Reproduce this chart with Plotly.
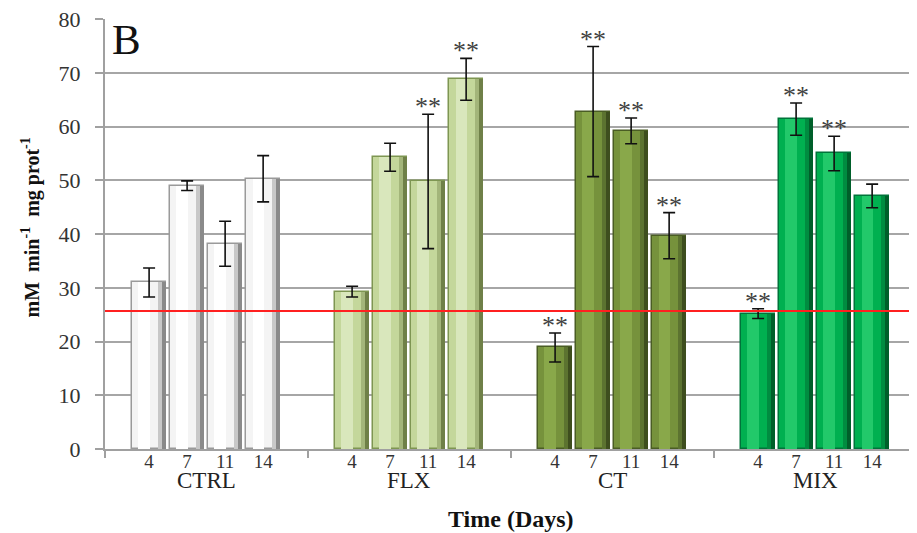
import plotly.graph_objects as go

# ---------------- data ----------------
groups = ["CTRL", "FLX", "CT", "MIX"]
days = ["4", "7", "11", "14"]

ctrl_vals = [31.0, 49.0, 38.2, 50.3]
ctrl_err = [2.7, 0.9, 4.2, 4.3]
flx_vals = [29.3, 54.3, 49.8, 68.8]
flx_err = [1.0, 2.6, 12.5, 3.9]
ct_vals = [18.9, 62.8, 59.2, 39.7]
ct_err = [2.7, 12.1, 2.4, 4.3]
mix_vals = [25.2, 61.4, 55.0, 47.1]
mix_err = [0.9, 3.0, 3.2, 2.2]

ctrl_sig = ["", "", "", ""]
flx_sig = ["", "", "**", "**"]
ct_sig = ["**", "**", "**", "**"]
mix_sig = ["**", "**", "**", ""]

reference_level = 25.7
y_ticks = [0, 10, 20, 30, 40, 50, 60, 70, 80]

values = [ctrl_vals, flx_vals, ct_vals, mix_vals]
errors = [ctrl_err, flx_err, ct_err, mix_err]
sigs = [ctrl_sig, flx_sig, ct_sig, mix_sig]

# ---------------- styling ----------------
FONT = "Liberation Serif, Times New Roman, serif"
fills = ["#F4F4F4", "#C4D79B", "#76923C", "#00B050"]
highlights = ["#FFFFFF", "#D9E7BC", "#89A84A", "#22C96A"]
mids = ["#C8C8C8", "#A3B57A", "#5C7330", "#008C40"]
shadows = ["#8A8A8A", "#6F8048", "#3E4E1E", "#005F2A"]
edges = ["#9A9A9A", "#7E9652", "#4A5D24", "#00743A"]
GROUP_W = 5.34   # group width in bar slots
OFFSET = 1.16    # first bar centre inside group
BAR_W = 0.9
HALF = BAR_W / 2

fig = go.Figure()
tickvals, ticktext = [], []
annotations = []
for g, name in enumerate(groups):
    xs = [g * GROUP_W + OFFSET + j for j in range(len(days))]
    tickvals += xs
    ticktext += days
    fig.add_trace(go.Bar(
        x=xs, y=values[g], width=BAR_W, name=name,
        marker=dict(color=fills[g], line=dict(color=edges[g], width=1.5)),
        showlegend=False, hoverinfo="skip"))
    # shading strips for a cylinder-like look
    for col, off, w in [(highlights[g], -0.28, 0.3),
                        (mids[g], HALF - 0.22, 0.12),
                        (shadows[g], HALF - 0.1, 0.1)]:
        fig.add_trace(go.Bar(
            x=xs, y=values[g], width=w, offset=off,
            marker=dict(color=col, line=dict(width=0)),
            showlegend=False, hoverinfo="skip"))
    fig.add_trace(go.Scatter(
        x=xs, y=values[g], mode="markers", marker=dict(opacity=0, size=1),
        error_y=dict(type="data", array=errors[g], visible=True,
                     color="#111111", thickness=1.6, width=6),
        showlegend=False, hoverinfo="skip"))
    for j, s in enumerate(sigs[g]):
        if s:
            annotations.append(dict(
                x=xs[j], y=values[g][j] + errors[g][j], xref="x", yref="y",
                text=s, showarrow=False, xanchor="center", yanchor="bottom",
                yshift=-9, font=dict(family=FONT, size=26, color="#404040")))
    annotations.append(dict(
        x=g * GROUP_W + OFFSET + 1.5, y=-0.074, xref="x", yref="paper",
        text=name, showarrow=False, xanchor="center", yanchor="middle",
        font=dict(family=FONT, size=23, color="#222222")))

# invisible trace to activate the boundary-tick axis
fig.add_trace(go.Scatter(x=[0, len(groups) * GROUP_W], y=[None, None],
                         xaxis="x2", showlegend=False, hoverinfo="skip"))

fig.add_shape(type="line", xref="paper", yref="y", x0=0, x1=0.991,
              y0=reference_level, y1=reference_level,
              line=dict(color="#FF2020", width=2))

annotations.append(dict(x=0.006, y=1.012, xref="paper", yref="paper",
                        text="B", showarrow=False, xanchor="left", yanchor="top",
                        font=dict(family=FONT, size=43, color="#111111")))
annotations.append(dict(x=-0.092, y=0.516, xref="paper", yref="paper",
                        text="<b>mM  min<sup>-1</sup>  mg prot<sup>-1</sup></b>",
                        textangle=-90, showarrow=False,
                        xanchor="center", yanchor="middle",
                        font=dict(family=FONT, size=20, color="#111111")))
annotations.append(dict(x=0.5, y=-0.163, xref="paper", yref="paper",
                        text="<b>Time (Days)</b>", showarrow=False,
                        xanchor="center", yanchor="middle",
                        font=dict(family=FONT, size=24, color="#111111")))

xr = [0, len(groups) * GROUP_W]
fig.update_layout(
    # the page body adds an 8 px margin, so the figure is sized to fit the window
    width=909, height=525,
    margin=dict(l=97, r=0, t=11, b=84),
    paper_bgcolor="white", plot_bgcolor="white",
    font=dict(family=FONT, color="#333333"),
    barmode="overlay", bargap=0,
    xaxis=dict(range=xr, tickmode="array", tickvals=tickvals, ticktext=ticktext,
               showgrid=False, zeroline=False, showline=True, automargin=False,
               linecolor="#A0A0A0", linewidth=2, ticks="", ticklabelstandoff=-6,
               tickfont=dict(family=FONT, size=19, color="#333333")),
    xaxis2=dict(range=xr, overlaying="x", side="bottom", tickmode="array",
                tickvals=[g * GROUP_W for g in range(len(groups) + 1)],
                showticklabels=False, ticks="outside", ticklen=8, automargin=False,
                tickcolor="#A0A0A0", tickwidth=2, showgrid=False,
                zeroline=False, showline=False),
    yaxis=dict(range=[0, 80.03], tickmode="array", tickvals=y_ticks, automargin=False,
               showgrid=True, gridcolor="#A6A6A6", gridwidth=2,
               zeroline=False, showline=True, linecolor="#A0A0A0", linewidth=2,
               ticks="outside", ticklen=8, tickcolor="#A0A0A0", tickwidth=2,
               ticklabelstandoff=10, ticklabeloverflow="allow",
               tickfont=dict(family=FONT, size=22, color="#333333")),
    annotations=annotations,
)

fig.write_html("out.html")
